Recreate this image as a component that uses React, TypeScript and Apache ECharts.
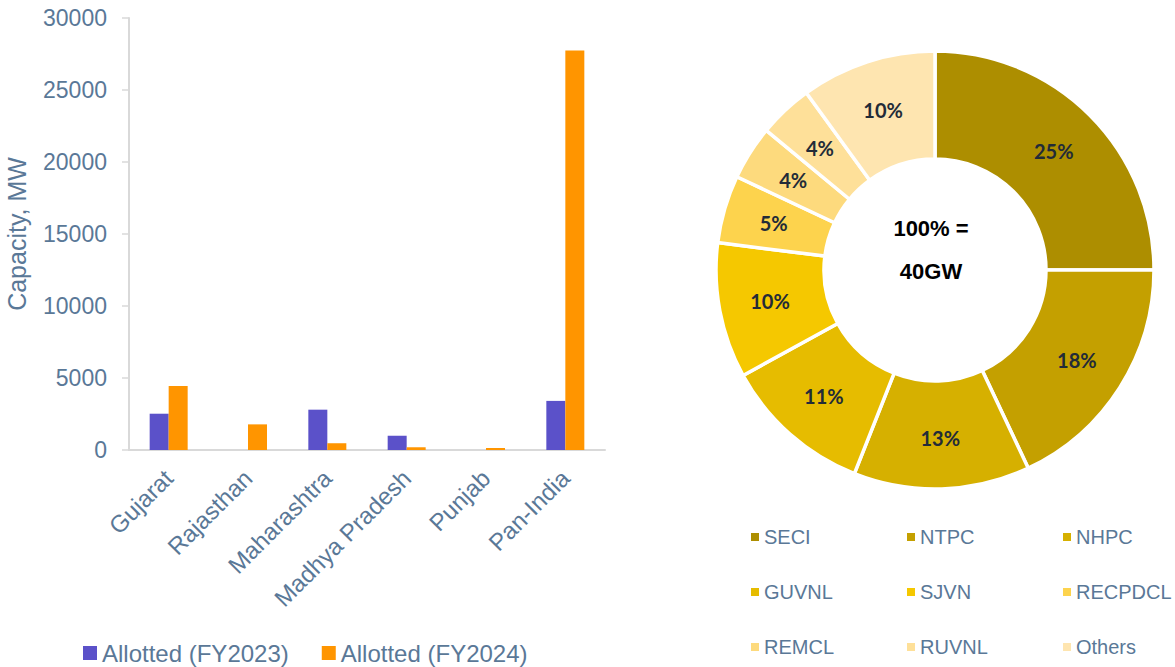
import React, { useEffect, useRef } from "react";
import * as echarts from "echarts";

const states = ["Gujarat", "Rajasthan", "Maharashtra", "Madhya Pradesh", "Punjab", "Pan-India"];
const allotted2023 = [2520, 0, 2800, 990, 0, 3410];
const allotted2024 = [4440, 1780, 470, 190, 140, 27750];
const seriesNames = ["Allotted (FY2023)", "Allotted (FY2024)"];
const yTicks = { min: 0, max: 30000, interval: 5000 };
const yAxisName = "Capacity, MW";

const agencies = ["SECI", "NTPC", "NHPC", "GUVNL", "SJVN", "RECPDCL", "REMCL", "RUVNL", "Others"];
const shares = [25, 18, 13, 11, 10, 5, 4, 4, 10];
const agencyColors = ["#ad8e00", "#c4a000", "#d6b000", "#e6bc00", "#f5c800", "#fdd34d", "#fdda7d", "#fee099", "#fee5b0"];
const centerLines = ["100% =", "40GW"];

const legendCols = [
  ["SECI", "GUVNL", "REMCL"],
  ["NTPC", "SJVN", "RUVNL"],
  ["NHPC", "RECPDCL", "Others"],
];

const axisColor = "#5a7897";
const lineColor = "#d9d9d9";
const font = "'Liberation Sans', Arial, sans-serif";

export default function App() {
  const ref = useRef<HTMLDivElement>(null);
  useEffect(() => {
    if (!ref.current) return;
    const chart = echarts.init(ref.current, undefined, { renderer: "svg" });
    chart.setOption({
      animation: false,
      backgroundColor: "#ffffff",
      textStyle: { fontFamily: font },
      grid: { left: 129, right: 570, top: 18, bottom: 217, containLabel: false },
      xAxis: {
        type: "category",
        data: states,
        axisLine: { show: true, lineStyle: { color: lineColor, width: 2 } },
        axisTick: { show: false },
        axisLabel: { rotate: 45, color: axisColor, fontSize: 24, fontFamily: font, margin: 24, interval: 0 },
      },
      yAxis: {
        type: "value",
        min: yTicks.min,
        max: yTicks.max,
        interval: yTicks.interval,
        name: yAxisName,
        nameLocation: "middle",
        nameGap: 100,
        nameTextStyle: { color: axisColor, fontSize: 25, fontFamily: font },
        axisLine: { show: true, lineStyle: { color: lineColor, width: 2 } },
        axisTick: { show: true, length: 7, lineStyle: { color: lineColor, width: 1.5 } },
        splitLine: { show: false },
        axisLabel: {
          color: axisColor,
          fontSize: 23,
          fontFamily: font,
          margin: 22,
          formatter: (v: number) => String(v),
        },
      },
      legend: [
        {
          data: seriesNames,
          left: 83,
          top: 641,
          padding: 0,
          icon: "rect",
          itemWidth: 14,
          itemHeight: 14,
          itemGap: 33,
          textStyle: { color: axisColor, fontSize: 24, fontFamily: font },
        },
        ...legendCols.map((col, i) => ({
          data: col,
          orient: "vertical",
          left: 751 + i * 156,
          top: 527,
          padding: 0,
          icon: "rect",
          itemWidth: 8,
          itemHeight: 8,
          itemGap: 35,
          itemStyle: { borderWidth: 0 },
          textStyle: { color: axisColor, fontSize: 20, fontFamily: font },
        })),
      ],
      series: [
        {
          name: seriesNames[0],
          type: "bar",
          data: allotted2023,
          barWidth: 19,
          barGap: "0%",
          itemStyle: { color: "#5b51c9" },
        },
        {
          name: seriesNames[1],
          type: "bar",
          data: allotted2024,
          barWidth: 19,
          barGap: "0%",
          itemStyle: { color: "#ff9500" },
        },
        {
          name: "Agencies",
          type: "pie",
          center: [935, 270],
          radius: [111, 219],
          startAngle: 90,
          clockwise: true,
          avoidLabelOverlap: false,
          data: agencies.map((n, i) => ({ name: n, value: shares[i], itemStyle: { color: agencyColors[i] } })),
          itemStyle: { borderColor: "#ffffff", borderWidth: 3.5 },
          label: {
            show: true,
            position: "inside",
            formatter: "{c}%",
            color: "#222b38",
            fontSize: 20,
            fontWeight: "bold",
            fontFamily: "Lato, 'Open Sans', sans-serif",
          },
          labelLine: { show: false },
          emphasis: { disabled: true },
        },
      ],
      graphic: centerLines.map((t, i) => ({
        type: "text",
        x: 931,
        y: 228 + i * 43,
        style: {
          text: t,
          fill: "#000000",
          font: `bold 22px ${font}`,
          textAlign: "center",
          textVerticalAlign: "middle",
        },
      })),
    });
    return () => chart.dispose();
  }, []);
  return <div ref={ref} style={{ position: "fixed", left: 0, top: 0, width: 1175, height: 667 }} />;
}
